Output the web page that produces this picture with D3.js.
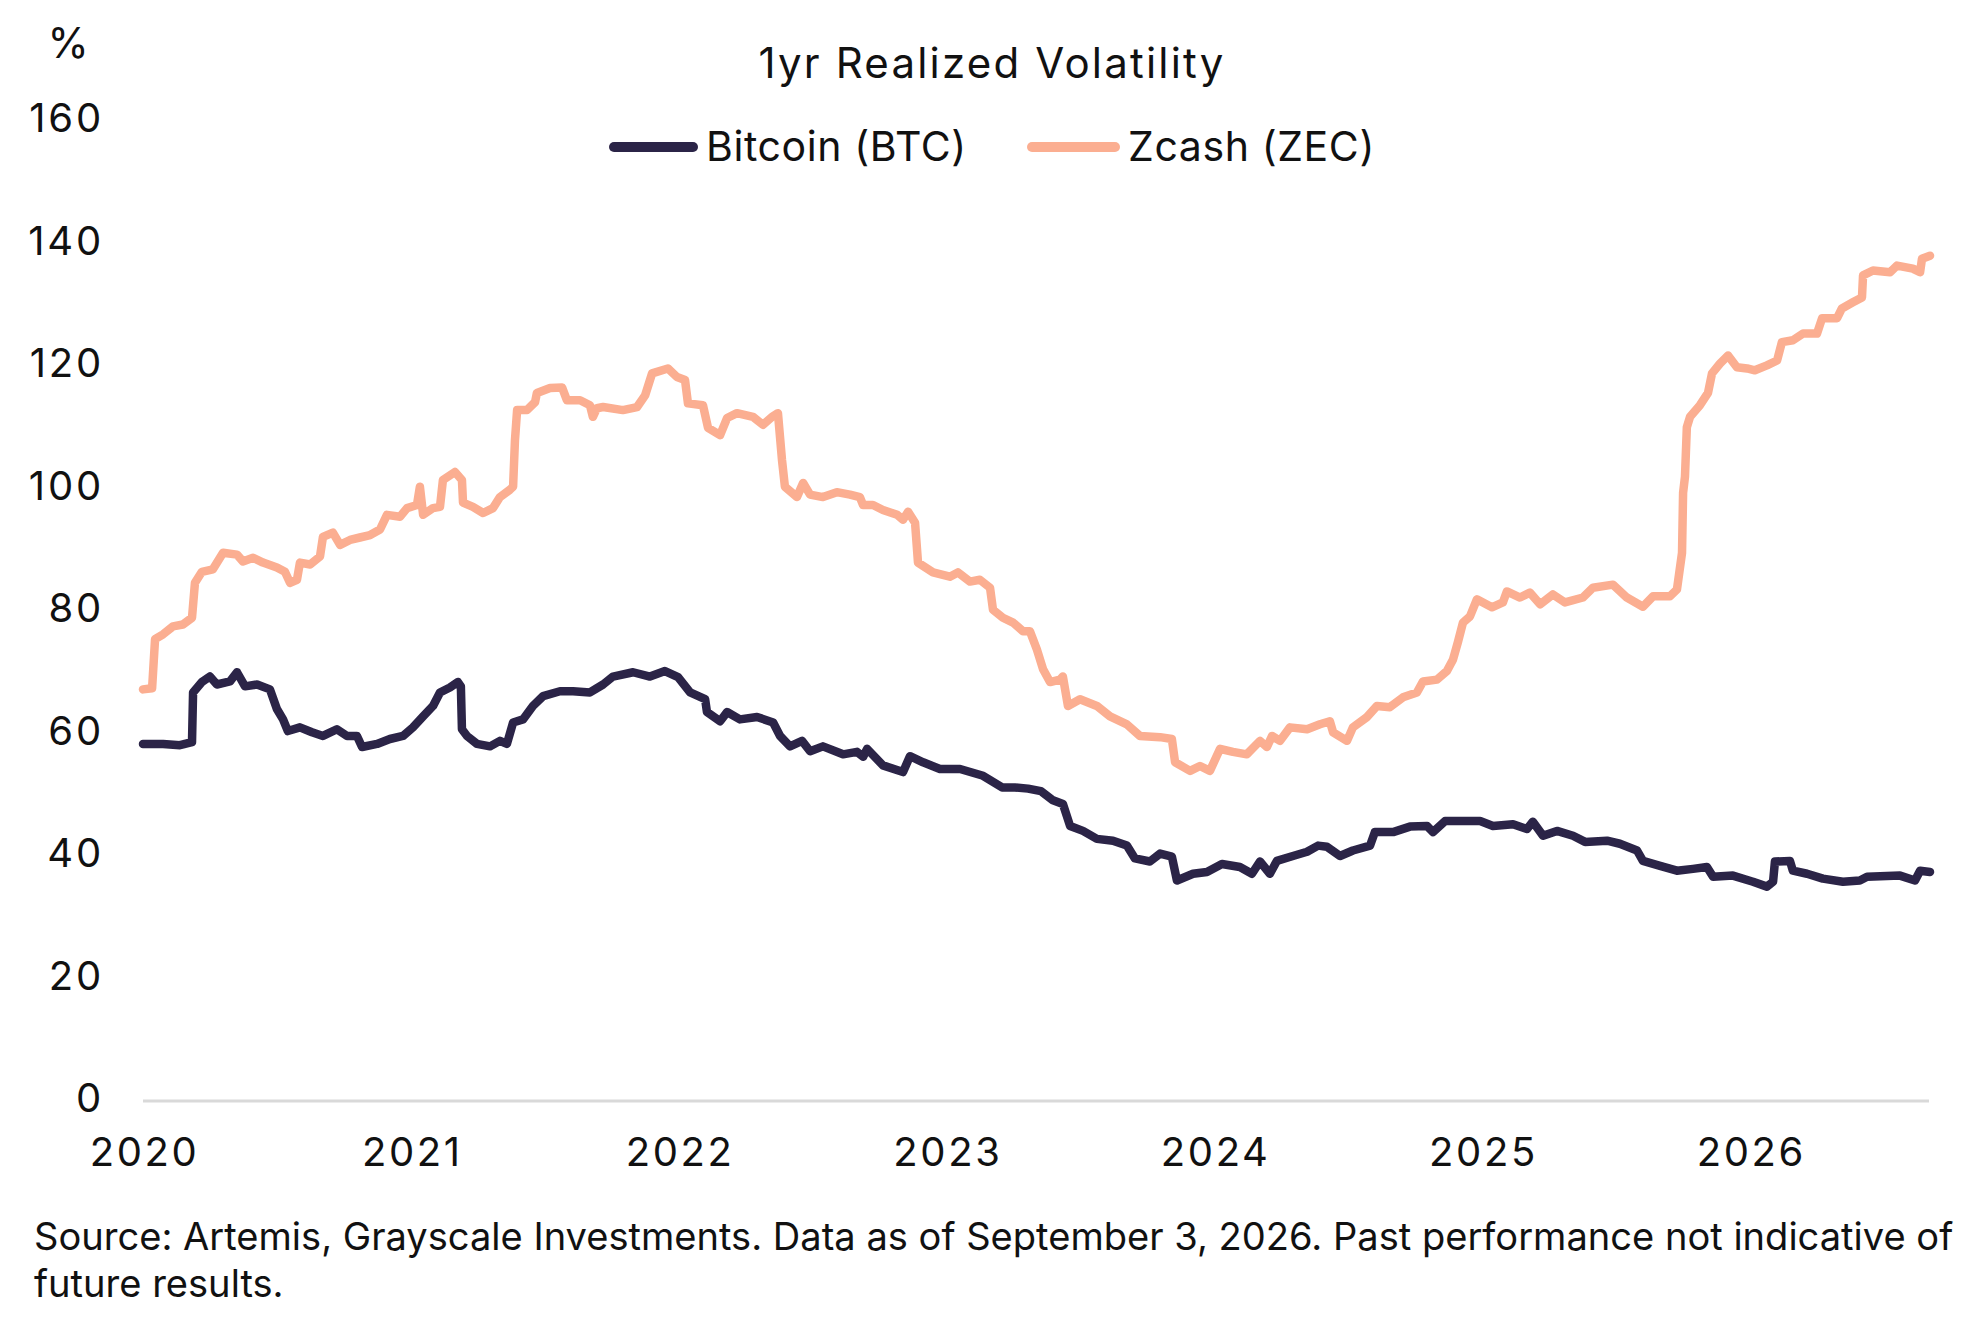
<!DOCTYPE html>
<html>
<head>
<meta charset="utf-8">
<script src="https://cdn.jsdelivr.net/npm/d3@7/dist/d3.min.js"></script>
<style>
  html, body { margin: 0; padding: 0; background: #ffffff; }
  svg { display: block; }
  text { font-family: Inter, Lato, "Noto Sans", sans-serif; fill: #111111; }
</style>
</head>
<body>
<svg id="chart" width="1980" height="1320"></svg>
<script>
// ---------- Data ----------
const chartTitle = "1yr Realized Volatility";
const yUnit = "%";
const seriesNames = ["Bitcoin (BTC)", "Zcash (ZEC)"];
const seriesColors = ["#2b2447", "#fbae91"];
const yTicks = [0, 20, 40, 60, 80, 100, 120, 140, 160];
const xTickYears = [2020, 2021, 2022, 2023, 2024, 2025, 2026];
const sourceLines = [
  "Source: Artemis, Grayscale Investments. Data as of September 3, 2026. Past performance not indicative of",
  "future results."
];

// decimal-year dates and values
const btcDates = [
  2020.000, 2020.075, 2020.138, 2020.183, 2020.187, 2020.220, 2020.250, 2020.276, 2020.325, 2020.351,
  2020.381, 2020.426, 2020.474, 2020.500, 2020.523, 2020.541, 2020.586, 2020.631, 2020.672, 2020.724,
  2020.762, 2020.799, 2020.818, 2020.874, 2020.922, 2020.971, 2021.008, 2021.046, 2021.083, 2021.109,
  2021.146, 2021.176, 2021.187, 2021.191, 2021.210, 2021.247, 2021.296, 2021.333, 2021.359, 2021.382,
  2021.419, 2021.456, 2021.494, 2021.557, 2021.606, 2021.669, 2021.718, 2021.755, 2021.830, 2021.893,
  2021.949, 2021.998, 2022.043, 2022.099, 2022.106, 2022.155, 2022.181, 2022.229, 2022.293, 2022.353,
  2022.379, 2022.416, 2022.461, 2022.491, 2022.539, 2022.614, 2022.666, 2022.689, 2022.704, 2022.763,
  2022.838, 2022.864, 2022.913, 2022.976, 2023.051, 2023.137, 2023.208, 2023.256, 2023.305, 2023.353,
  2023.398, 2023.435, 2023.462, 2023.510, 2023.562, 2023.622, 2023.674, 2023.704, 2023.760, 2023.798,
  2023.842, 2023.861, 2023.921, 2023.973, 2024.029, 2024.096, 2024.141, 2024.171, 2024.208, 2024.234,
  2024.294, 2024.347, 2024.388, 2024.421, 2024.470, 2024.518, 2024.582, 2024.600, 2024.668, 2024.731,
  2024.795, 2024.817, 2024.862, 2024.918, 2024.993, 2025.041, 2025.116, 2025.168, 2025.190, 2025.228,
  2025.280, 2025.340, 2025.385, 2025.467, 2025.515, 2025.579, 2025.601, 2025.665, 2025.728, 2025.788,
  2025.840, 2025.863, 2025.937, 2026.012, 2026.064, 2026.087, 2026.094, 2026.150, 2026.161, 2026.214,
  2026.273, 2026.348, 2026.411, 2026.438, 2026.561, 2026.617, 2026.636, 2026.673
];
const btcValues = [
  58.3, 58.3, 58.1, 58.6, 66.7, 68.4, 69.3, 68.0, 68.5, 70.0,
  67.7, 68.0, 67.2, 64.0, 62.3, 60.4, 61.0, 60.2, 59.6, 60.7,
  59.6, 59.6, 57.8, 58.3, 59.1, 59.6, 61.0, 62.8, 64.5, 66.7,
  67.5, 68.4, 67.7, 60.7, 59.6, 58.3, 57.9, 58.8, 58.3, 61.8,
  62.3, 64.5, 66.1, 66.9, 66.9, 66.7, 68.0, 69.3, 70.0, 69.3,
  70.2, 69.2, 66.7, 65.6, 63.5, 62.0, 63.5, 62.3, 62.7, 61.8,
  59.6, 57.9, 58.8, 57.1, 57.9, 56.6, 57.0, 56.2, 57.5, 54.8,
  53.7, 56.3, 55.3, 54.2, 54.2, 53.1, 51.2, 51.2, 51.0, 50.6,
  49.1, 48.5, 44.9, 44.1, 42.8, 42.5, 41.7, 39.6, 39.1, 40.4,
  39.9, 36.0, 37.1, 37.4, 38.7, 38.2, 37.1, 39.1, 37.1, 39.2,
  40.0, 40.7, 41.7, 41.5, 40.0, 40.9, 41.7, 43.9, 43.9, 44.8,
  44.9, 43.9, 45.7, 45.7, 45.7, 44.9, 45.2, 44.4, 45.6, 43.3,
  44.1, 43.3, 42.3, 42.5, 42.0, 40.9, 39.2, 38.4, 37.6, 37.9,
  38.2, 36.6, 36.8, 35.8, 35.0, 35.8, 39.1, 39.2, 37.6, 37.1,
  36.3, 35.8, 36.0, 36.6, 36.8, 36.0, 37.6, 37.4
];

const zecDates = [
  2020.000, 2020.034, 2020.045, 2020.075, 2020.112, 2020.149, 2020.183, 2020.194, 2020.220, 2020.261,
  2020.299, 2020.351, 2020.373, 2020.411, 2020.448, 2020.500, 2020.530, 2020.549, 2020.575, 2020.586,
  2020.624, 2020.661, 2020.672, 2020.709, 2020.736, 2020.773, 2020.810, 2020.848, 2020.885, 2020.911,
  2020.960, 2020.986, 2021.023, 2021.034, 2021.046, 2021.083, 2021.109, 2021.120, 2021.165, 2021.191,
  2021.195, 2021.232, 2021.270, 2021.307, 2021.333, 2021.370, 2021.382, 2021.389, 2021.397, 2021.434,
  2021.464, 2021.471, 2021.520, 2021.565, 2021.583, 2021.632, 2021.669, 2021.680, 2021.695, 2021.718,
  2021.792, 2021.845, 2021.875, 2021.901, 2021.960, 2021.994, 2022.024, 2022.035, 2022.091, 2022.110,
  2022.155, 2022.181, 2022.218, 2022.278, 2022.315, 2022.349, 2022.371, 2022.386, 2022.397, 2022.442,
  2022.465, 2022.491, 2022.539, 2022.591, 2022.640, 2022.677, 2022.689, 2022.726, 2022.763, 2022.816,
  2022.838, 2022.857, 2022.883, 2022.894, 2022.950, 2023.013, 2023.043, 2023.088, 2023.125, 2023.163,
  2023.174, 2023.211, 2023.249, 2023.286, 2023.312, 2023.338, 2023.361, 2023.387, 2023.424, 2023.435,
  2023.454, 2023.499, 2023.562, 2023.611, 2023.674, 2023.723, 2023.798, 2023.842, 2023.854, 2023.910,
  2023.947, 2023.984, 2024.022, 2024.070, 2024.122, 2024.171, 2024.197, 2024.216, 2024.246, 2024.283,
  2024.347, 2024.395, 2024.432, 2024.444, 2024.496, 2024.518, 2024.571, 2024.608, 2024.656, 2024.705,
  2024.757, 2024.780, 2024.832, 2024.869, 2024.892, 2024.910, 2024.929, 2024.955, 2024.981, 2025.037,
  2025.078, 2025.093, 2025.142, 2025.179, 2025.217, 2025.265, 2025.310, 2025.377, 2025.414, 2025.489,
  2025.541, 2025.601, 2025.639, 2025.702, 2025.728, 2025.747, 2025.751, 2025.758, 2025.765, 2025.777,
  2025.814, 2025.844, 2025.859, 2025.889, 2025.919, 2025.952, 2025.990, 2026.019, 2026.064, 2026.102,
  2026.120, 2026.161, 2026.199, 2026.251, 2026.270, 2026.326, 2026.344, 2026.385, 2026.419, 2026.423,
  2026.460, 2026.524, 2026.550, 2026.609, 2026.636, 2026.643, 2026.673
];
const zecValues = [
  67.2, 67.4, 75.4, 76.2, 77.5, 77.8, 78.9, 84.6, 86.4, 86.8,
  89.5, 89.2, 88.1, 88.7, 87.9, 87.1, 86.4, 84.6, 85.1, 87.9,
  87.6, 88.9, 92.1, 92.8, 90.8, 91.6, 92.0, 92.4, 93.3, 95.7,
  95.4, 96.8, 97.3, 100.3, 95.7, 96.8, 97.0, 101.4, 102.7, 101.4,
  97.7, 97.0, 96.0, 96.8, 98.6, 99.8, 100.3, 107.9, 112.8, 112.8,
  114.1, 115.6, 116.4, 116.5, 114.4, 114.4, 113.6, 111.7, 113.1, 113.3,
  112.8, 113.3, 115.2, 118.8, 119.6, 118.2, 117.7, 113.9, 113.6, 109.9,
  108.7, 111.5, 112.3, 111.7, 110.4, 111.7, 112.3, 104.7, 100.3, 98.6,
  100.9, 99.0, 98.6, 99.4, 99.0, 98.6, 97.3, 97.3, 96.5, 95.7,
  94.9, 96.2, 94.4, 87.9, 86.3, 85.6, 86.3, 84.8, 85.1, 83.8,
  80.2, 78.9, 78.1, 76.7, 76.7, 73.7, 70.5, 68.4, 68.8, 69.3,
  64.5, 65.6, 64.5, 62.8, 61.5, 59.6, 59.4, 59.1, 55.3, 53.9,
  54.7, 53.9, 57.5, 57.0, 56.6, 58.8, 57.8, 59.6, 58.8, 61.0,
  60.7, 61.5, 62.0, 60.2, 58.8, 61.0, 62.7, 64.5, 64.3, 65.9,
  66.7, 68.5, 68.8, 70.2, 72.1, 74.9, 78.1, 79.1, 81.9, 80.6,
  81.4, 83.2, 82.2, 83.0, 81.1, 82.7, 81.4, 82.2, 83.8, 84.3,
  82.2, 80.7, 82.4, 82.4, 83.5, 89.5, 99.3, 101.9, 110.0, 111.7,
  113.6, 115.6, 118.8, 120.4, 121.7, 119.8, 119.6, 119.3, 120.1, 120.9,
  123.9, 124.2, 125.3, 125.3, 127.8, 127.8, 129.4, 130.4, 131.2, 134.8,
  135.6, 135.3, 136.4, 135.9, 135.3, 137.5, 138.0
];

// ---------- Layout ----------
const FONT = "Inter, Lato, 'Noto Sans', sans-serif";
const svg = d3.select("#chart");
const plot = { left: 143, right: 1930, top: 121, bottom: 1101 };

const x = d3.scaleLinear().domain([2020, 2026.673]).range([plot.left, plot.right]);
const y = d3.scaleLinear().domain([0, 160]).range([plot.bottom, plot.top]);

const btc = btcDates.map((d, i) => ({ t: d, v: btcValues[i] }));
const zec = zecDates.map((d, i) => ({ t: d, v: zecValues[i] }));

// Zero baseline
svg.append("line")
  .attr("x1", plot.left).attr("x2", 1929)
  .attr("y1", y(0)).attr("y2", y(0))
  .attr("stroke", "#d9d9d9").attr("stroke-width", 3);

// Y axis
const yAxis = d3.axisLeft(y).tickValues(yTicks).tickSize(0).tickPadding(0).tickFormat(d3.format("d"));
const yg = svg.append("g").attr("transform", "translate(104,-2)").call(yAxis);
yg.select(".domain").remove();
yg.selectAll("text")
  .attr("font-family", FONT)
  .attr("font-size", 40).attr("letter-spacing", 2.8)
  .attr("fill", "#111").attr("text-anchor", "end");

// X axis
const xAxis = d3.axisBottom(x).tickValues(xTickYears).tickSize(0).tickPadding(0).tickFormat(d3.format("d"));
const xg = svg.append("g").attr("transform", "translate(1,1138)").call(xAxis);
xg.select(".domain").remove();
xg.selectAll("text")
  .attr("font-family", FONT)
  .attr("font-size", 40).attr("letter-spacing", 2.6)
  .attr("fill", "#111").attr("dy", "0.71em");

// Lines
const line = d3.line().x(d => x(d.t)).y(d => y(d.v)).curve(d3.curveLinear);
svg.append("path").datum(zec)
  .attr("d", line).attr("fill", "none")
  .attr("stroke", seriesColors[1]).attr("stroke-width", 8.5)
  .attr("stroke-linejoin", "round").attr("stroke-linecap", "round");
svg.append("path").datum(btc)
  .attr("d", line).attr("fill", "none")
  .attr("stroke", seriesColors[0]).attr("stroke-width", 8.5)
  .attr("stroke-linejoin", "round").attr("stroke-linecap", "round");

// Title
svg.append("text").attr("x", 992).attr("y", 78)
  .attr("text-anchor", "middle").attr("font-size", 42).attr("letter-spacing", 2.2)
  .text(chartTitle);

// % unit
svg.append("text").attr("x", 68).attr("y", 58)
  .attr("text-anchor", "middle").attr("font-size", 42).text(yUnit);

// Legend
const legendItems = [
  { name: seriesNames[0], color: seriesColors[0], x1: 609, x2: 698, tx: 706 },
  { name: seriesNames[1], color: seriesColors[1], x1: 1027, x2: 1120, tx: 1128 }
];
const lg = svg.append("g");
legendItems.forEach(it => {
  lg.append("line").attr("x1", it.x1 + 5).attr("x2", it.x2 - 5)
    .attr("y1", 147).attr("y2", 147)
    .attr("stroke", it.color).attr("stroke-width", 10).attr("stroke-linecap", "round");
  lg.append("text").attr("x", it.tx).attr("y", 161)
    .attr("font-size", 41).attr("letter-spacing", 0.6).text(it.name);
});

// Source
const src = svg.append("g");
sourceLines.forEach((s, i) => {
  src.append("text").attr("x", 34).attr("y", 1250 + i * 47)
    .attr("font-size", 36).text(s);
});
// fit first source line to reference width
const first = src.select("text").node();
const w = first.getComputedTextLength();
const fs = 36 * 1920 / w;
src.selectAll("text").attr("font-size", fs);
</script>
</body>
</html>
